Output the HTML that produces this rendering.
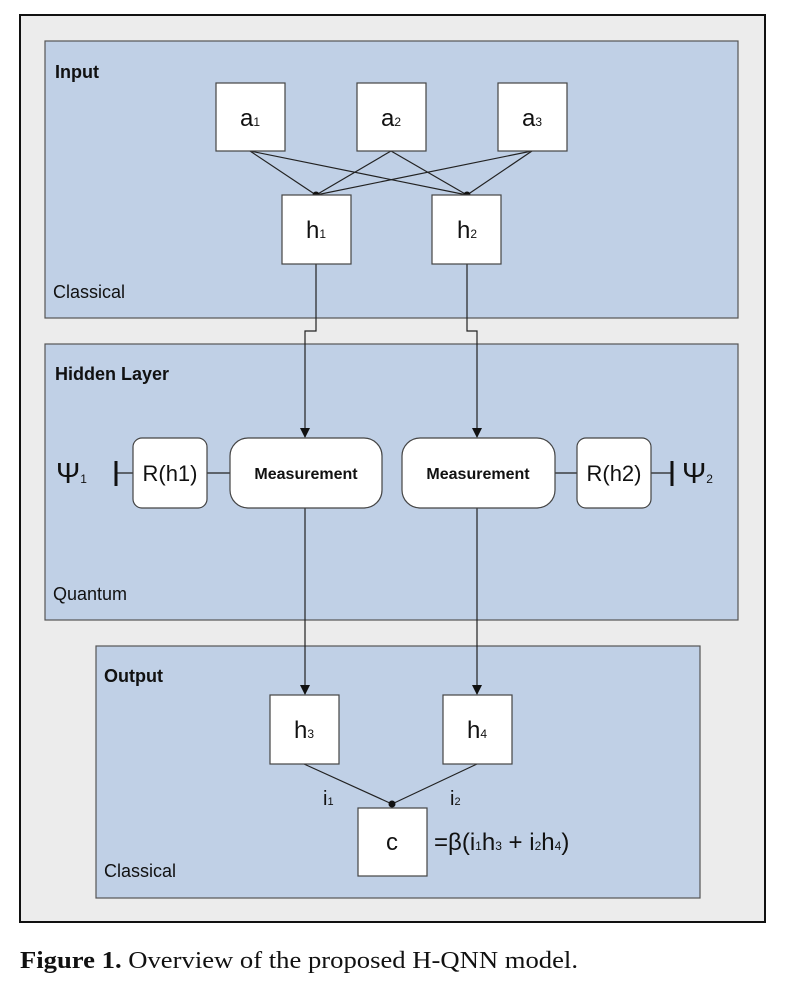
<!DOCTYPE html>
<html><head><meta charset="utf-8"><style>
body{margin:0;background:#fff;width:792px;height:986px;position:relative;overflow:hidden}
svg{position:absolute;left:0;top:0}
text{font-family:"Liberation Sans",sans-serif;fill:#111}
</style></head><body>
<svg width="792" height="986">
<defs><marker id="ar" markerWidth="10" markerHeight="10" refX="9" refY="5" orient="auto" markerUnits="userSpaceOnUse"><path d="M0,0 L10,5 L0,10 z" fill="#111"/></marker></defs>
<rect x="20" y="15" width="745" height="907" fill="#ececec" stroke="#111" stroke-width="2"/>
<g>
<rect x="45" y="41" width="693" height="277" fill="#c0d0e6" stroke="#555" stroke-width="1.2"/>
<text x="55" y="78" font-size="18" font-weight="bold">Input</text>
<text x="53" y="298" font-size="18">Classical</text>
</g>
<g>
<rect x="45" y="344" width="693" height="276" fill="#c0d0e6" stroke="#555" stroke-width="1.2"/>
<text x="55" y="380" font-size="18" font-weight="bold">Hidden Layer</text>
<text x="53" y="600" font-size="18">Quantum</text>
</g>
<g>
<rect x="96" y="646" width="604" height="252" fill="#c0d0e6" stroke="#555" stroke-width="1.2"/>
<text x="104" y="682" font-size="18" font-weight="bold">Output</text>
<text x="104" y="877" font-size="18">Classical</text>
</g>
<g stroke="#222" stroke-width="1.2" fill="none">
<line x1="250" y1="151" x2="316" y2="195"/><line x1="250" y1="151" x2="467" y2="195"/>
<line x1="391" y1="151" x2="316" y2="195"/><line x1="391" y1="151" x2="467" y2="195"/>
<line x1="532" y1="151" x2="316" y2="195"/><line x1="532" y1="151" x2="467" y2="195"/>
<polyline points="316,264 316,331 305,331 305,437" marker-end="url(#ar)"/>
<polyline points="467,264 467,331 477,331 477,437" marker-end="url(#ar)"/>
<line x1="116" y1="473" x2="133" y2="473"/><line x1="207" y1="473" x2="230" y2="473"/>
<line x1="555" y1="473" x2="577" y2="473"/><line x1="651" y1="473" x2="672" y2="473"/>
<line x1="305" y1="508" x2="305" y2="694" marker-end="url(#ar)"/>
<line x1="477" y1="508" x2="477" y2="694" marker-end="url(#ar)"/>
<line x1="304" y1="764" x2="392" y2="804"/><line x1="477" y1="764" x2="392" y2="804"/>
<line x1="392" y1="804" x2="392" y2="808"/>
</g>
<g fill="#111"><circle cx="316" cy="195" r="3.5"/><circle cx="467" cy="195" r="3.5"/><circle cx="392" cy="804" r="3.5"/></g>
<g stroke="#111" stroke-width="3"><line x1="116" y1="461" x2="116" y2="486"/><line x1="672" y1="461" x2="672" y2="486"/></g>
<g fill="#fff" stroke="#444" stroke-width="1.2">
<rect x="216" y="83" width="69" height="68"/>
<rect x="357" y="83" width="69" height="68"/>
<rect x="498" y="83" width="69" height="68"/>
<rect x="282" y="195" width="69" height="69"/>
<rect x="432" y="195" width="69" height="69"/>
<rect x="133" y="438" width="74" height="70" rx="9"/>
<rect x="230" y="438" width="152" height="70" rx="18"/>
<rect x="402" y="438" width="153" height="70" rx="18"/>
<rect x="577" y="438" width="74" height="70" rx="9"/>
<rect x="270" y="695" width="69" height="69"/>
<rect x="443" y="695" width="69" height="69"/>
<rect x="358" y="808" width="69" height="68"/>
</g>
<g font-size="24" text-anchor="middle">
<text x="250" y="126">a<tspan font-size="12">1</tspan></text>
<text x="391" y="126">a<tspan font-size="12">2</tspan></text>
<text x="532" y="126">a<tspan font-size="12">3</tspan></text>
<text x="316" y="238">h<tspan font-size="12">1</tspan></text>
<text x="467" y="238">h<tspan font-size="12">2</tspan></text>
<text x="304" y="738">h<tspan font-size="12">3</tspan></text>
<text x="477" y="738">h<tspan font-size="12">4</tspan></text>
<text x="392" y="850">c</text>
<text x="170" y="481" font-size="22">R(h1)</text>
<text x="614" y="481" font-size="22">R(h2)</text>
</g>
<g font-size="16" font-weight="bold" text-anchor="middle">
<text x="306" y="479">Measurement</text>
<text x="478" y="479">Measurement</text>
</g>
<text x="56" y="483" font-size="29" font-family="DejaVu Sans">Ψ<tspan font-size="12" font-family="Liberation Sans">1</tspan></text>
<text x="682" y="483" font-size="29" font-family="DejaVu Sans">Ψ<tspan font-size="12" font-family="Liberation Sans">2</tspan></text>
<text x="323" y="805" font-size="20">i<tspan font-size="11">1</tspan></text>
<text x="450" y="805" font-size="20">i<tspan font-size="11">2</tspan></text>
<text x="434" y="850" font-size="24">=β(i<tspan font-size="12">1</tspan>h<tspan font-size="12">3</tspan> + i<tspan font-size="12">2</tspan>h<tspan font-size="12">4</tspan>)</text>
<text x="20" y="968" font-size="24" textLength="558" lengthAdjust="spacingAndGlyphs" style="font-family:'Liberation Serif',serif"><tspan font-weight="bold">Figure 1.</tspan> Overview of the proposed H-QNN model.</text>
</svg>
</body></html>
